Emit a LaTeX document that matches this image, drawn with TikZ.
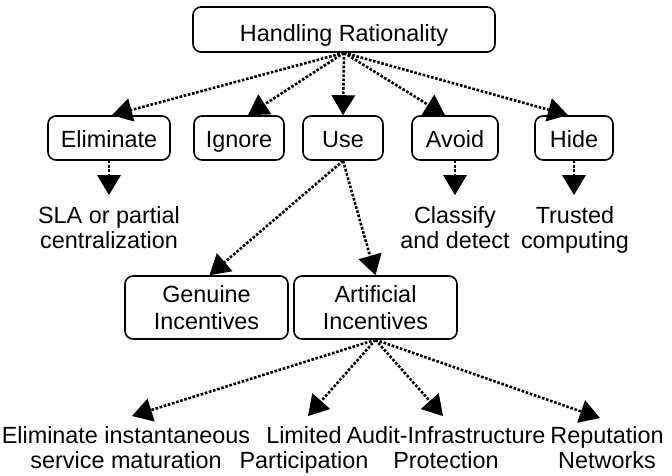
\documentclass[tikz,border=0pt]{standalone}
\usepackage{fontspec}
\setmainfont{Liberation Sans}
\usetikzlibrary{arrows.meta}
\newcommand{\tph}[1]{\rule{0pt}{#1}}
\newcommand{\btd}[1]{\rule[-#1]{0pt}{#1}}
\begin{document}
\begin{tikzpicture}[x=1pt,y=-1pt,
  box/.style={draw, line width=1.6pt, rounded corners=8pt, inner sep=0pt, align=center,
    font=\fontsize{23.4}{27}\selectfont},
  free/.style={inner sep=0pt, align=center, font=\fontsize{23.4}{25.5}\selectfont},
  conn/.style={line width=2.6pt, dash pattern=on 2.6pt off 1.7pt,
    -{Triangle[width=24pt,length=20pt,line width=0pt]}}]
\useasboundingbox (0,0) rectangle (672,476);
% top
\node[box, minimum width=302pt, minimum height=45pt] (hr) at (344,29.5) {\tph{30pt}Handling Rationality\btd{6pt}};
\node[box, minimum width=122pt, minimum height=44pt] (elim) at (109,138) {\tph{25pt}Eliminate\btd{6pt}};
\node[box, minimum width=90pt, minimum height=44pt] (ign) at (239,138) {\tph{25pt}Ignore\btd{6pt}};
\node[box, minimum width=80pt, minimum height=44pt] (use) at (343,138) {\tph{25pt}Use\btd{6pt}};
\node[box, minimum width=86pt, minimum height=44pt] (avoid) at (455,138) {\tph{25pt}Avoid\btd{6pt}};
\node[box, minimum width=78pt, minimum height=44pt] (hide) at (574,138) {\tph{25pt}Hide\btd{6pt}};
% leaves of top row
\node[free] (sla) at (109,230) {\tph{18pt}SLA or partial\\centralization\btd{6pt}};
\node[free] (cls) at (455,230) {\tph{18pt}Classify\\and detect\btd{6pt}};
\node[free] (tru) at (575,230) {\tph{18pt}Trusted\\computing\btd{6pt}};
% incentives
\node[box, minimum width=163pt, minimum height=63pt] (gen) at (206.5,307.5) {\tph{23pt}Genuine\\Incentives\btd{6pt}};
\node[box, minimum width=163pt, minimum height=63pt] (art) at (375.5,307.5) {\tph{23pt}Artificial\\Incentives\btd{6pt}};
% bottom
\node[free] (eis) at (126,450) {\tph{18pt}Eliminate instantaneous\\service maturation\btd{6pt}};
\node[free] (lim) at (304,450) {\tph{18pt}Limited\\Participation\btd{6pt}};
\node[free] (aud) at (446,450) {\tph{18pt}Audit-Infrastructure\\Protection\btd{6pt}};
\node[free] (rep) at (607,450) {\tph{18pt}Reputation\\Networks\btd{6pt}};
% connectors
\draw[conn] (hr.south) -- ([xshift=3pt]elim.north);
\draw[conn] (hr.south) -- ([xshift=9pt]ign.north);
\draw[conn] (hr.south) -- (use.north);
\draw[conn] (hr.south) -- ([xshift=-10pt]avoid.north);
\draw[conn] (hr.south) -- ([xshift=-6pt]hide.north);
\draw[conn] (elim.south) -- ([yshift=10pt]sla.north);
\draw[conn] (avoid.south) -- ([yshift=10pt]cls.north);
\draw[conn] (hide.south) -- ([yshift=10pt,xshift=-1pt]tru.north);
\draw[conn] (use.south) -- ([xshift=3pt]gen.north);
\draw[conn] (use.south) -- (art.north);
\draw[conn] (art.south) -- ([xshift=6pt,yshift=9pt]eis.north);
\draw[conn] (art.south) -- ([xshift=4pt,yshift=9pt]lim.north);
\draw[conn] (art.south) -- ([xshift=-3pt,yshift=9pt]aud.north);
\draw[conn] (art.south) -- ([xshift=-7pt,yshift=7pt]rep.north);
\end{tikzpicture}
\end{document}
